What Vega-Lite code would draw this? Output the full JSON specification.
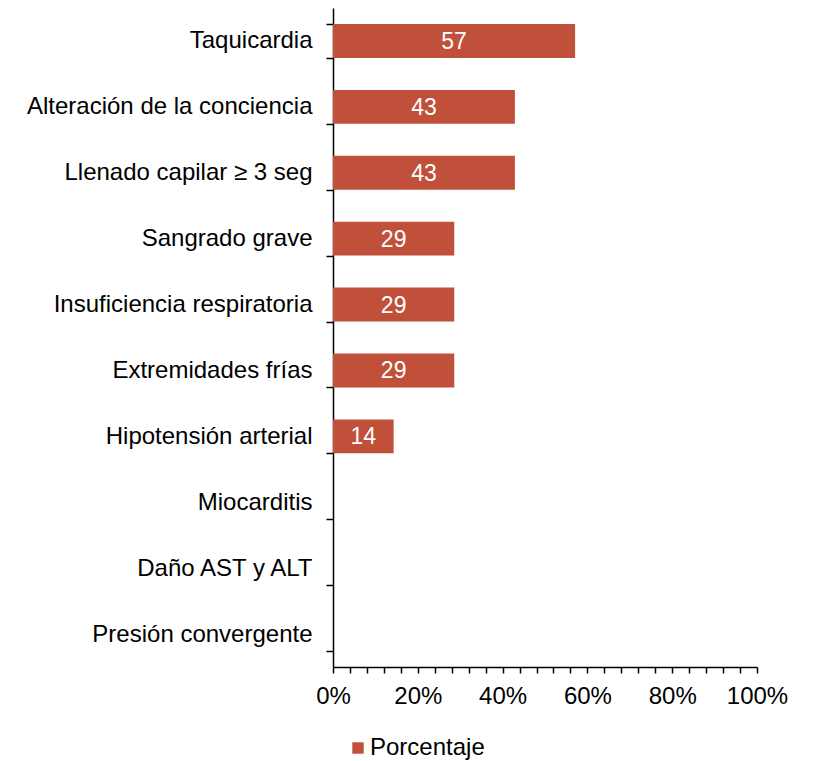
{
  "$schema": "https://vega.github.io/schema/vega-lite/v6.json",
  "width": 424,
  "height": 659,
  "autosize": {"type": "none"},
  "padding": {"left": 333, "top": 8, "right": 61, "bottom": 94},
  "background": "white",
  "config": {
    "font": "Liberation Sans",
    "view": {"stroke": null},
    "axis": {"labelFont": "Liberation Sans", "labelColor": "black", "labelFontSize": 24, "domainColor": "black", "tickColor": "black", "grid": false, "title": null}
  },
  "data": {
    "values": [
      {"sintoma": "Taquicardia", "serie": "Porcentaje", "value": 57.1},
      {"sintoma": "Alteración de la conciencia", "serie": "Porcentaje", "value": 42.9},
      {"sintoma": "Llenado capilar ≥ 3 seg", "serie": "Porcentaje", "value": 42.9},
      {"sintoma": "Sangrado grave", "serie": "Porcentaje", "value": 28.6},
      {"sintoma": "Insuficiencia respiratoria", "serie": "Porcentaje", "value": 28.6},
      {"sintoma": "Extremidades frías", "serie": "Porcentaje", "value": 28.6},
      {"sintoma": "Hipotensión arterial", "serie": "Porcentaje", "value": 14.3},
      {"sintoma": "Miocarditis", "serie": "Porcentaje", "value": 0},
      {"sintoma": "Daño AST y ALT", "serie": "Porcentaje", "value": 0},
      {"sintoma": "Presión convergente", "serie": "Porcentaje", "value": 0}
    ]
  },
  "encoding": {
    "y": {
      "field": "sintoma",
      "type": "nominal",
      "sort": null,
      "scale": {"paddingInner": 0.485, "paddingOuter": 0.2425},
      "axis": {"tickBand": "extent", "tickSize": 7, "tickWidth": 1.5, "domainWidth": 1.5, "labelPadding": 14, "labelLimit": 400}
    }
  },
  "layer": [
    {
      "mark": {"type": "bar", "color": "#C0503A"},
      "encoding": {
        "x": {
          "field": "value",
          "type": "quantitative",
          "scale": {"domain": [0, 100], "nice": false},
          "axis": {
            "values": [0, 4, 8, 12, 16, 20, 24, 28, 32, 36, 40, 44, 48, 52, 56, 60, 64, 68, 72, 76, 80, 84, 88, 92, 96, 100],
            "tickCount": 100,
            "labelExpr": "datum.value % 20 == 0 ? datum.value + '%' : ''",
            "tickSize": 6,
            "tickWidth": 1.5,
            "domainWidth": 1.5,
            "labelPadding": 11,
            "labelFlush": false,
            "labelOverlap": false
          }
        },
        "color": {
          "field": "serie",
          "type": "nominal",
          "scale": {"range": ["#C0503A"]},
          "legend": {
            "title": null,
            "orient": "none",
            "legendX": 13,
            "legendY": 728,
            "symbolType": "square",
            "symbolSize": 130,
            "symbolStrokeWidth": 0,
            "labelFontSize": 24,
            "labelColor": "black",
            "labelOffset": 0,
            "padding": 0
          }
        }
      }
    },
    {
      "transform": [
        {"filter": "datum.value > 0"},
        {"calculate": "datum.value / 2", "as": "mid"}
      ],
      "mark": {"type": "text", "color": "white", "fontSize": 23, "align": "center", "baseline": "middle", "dy": 1},
      "encoding": {
        "x": {"field": "mid", "type": "quantitative"},
        "text": {"field": "value", "type": "quantitative", "format": ".0f"}
      }
    }
  ]
}
